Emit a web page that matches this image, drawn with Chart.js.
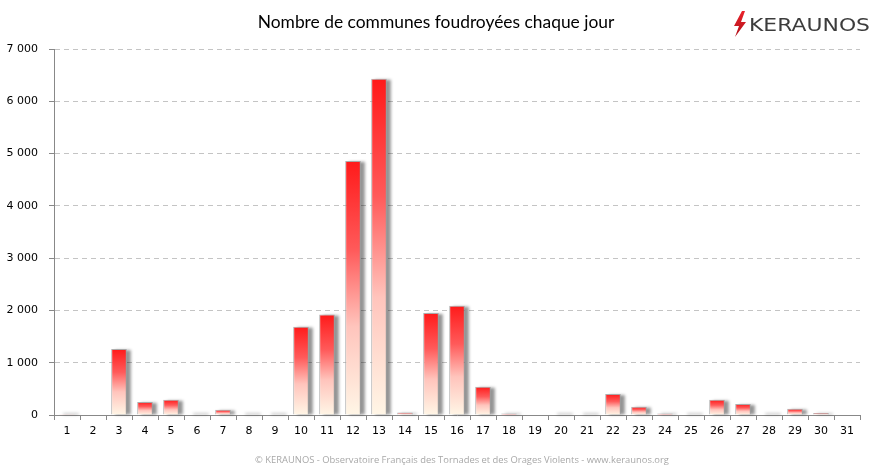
<!DOCTYPE html>
<html>
<head>
<meta charset="utf-8">
<script src="https://cdn.jsdelivr.net/npm/chart.js@4/dist/chart.umd.min.js"></script>
<style>
  html, body { margin: 0; padding: 0; background: #fff; }
  #wrap { width: 874px; height: 472px; }
</style>
</head>
<body>
<div id="wrap"><canvas id="chart" width="874" height="472"></canvas></div>
<script>
// Days of the month
const days = ["1","2","3","4","5","6","7","8","9","10","11","12","13","14","15","16",
  "17","18","19","20","21","22","23","24","25","26","27","28","29","30","31"];

// Number of communes struck by lightning each day
const communes = [15, 0, 1260, 250, 290, 10, 100, 10, 10, 1690, 1920, 4860, 6430, 50,
  1950, 2090, 540, 30, 0, 10, 10, 400, 160, 30, 10, 290, 210, 10, 120, 40, 0];

const titleText = "Nombre de communes foudroyées chaque jour";
const footerText = "© KERAUNOS - Observatoire Français des Tornades et des Orages Violents - www.keraunos.org";

// Gradient from red (top) to cream (bottom) for each bar
function barGradient(context) {
  const chart = context.chart;
  if (!chart.chartArea || !chart.scales.y) return "#ff5050";
  const y = chart.scales.y;
  const top = y.getPixelForValue(context.raw);
  const bottom = y.getPixelForValue(0);
  if (bottom - top < 2) return "#ff6a6a";
  const g = chart.ctx.createLinearGradient(0, top, 0, bottom);
  g.addColorStop(0, "#ff1a1a");
  g.addColorStop(0.35, "#ff5a5a");
  g.addColorStop(0.65, "#ffc4bc");
  g.addColorStop(1, "#fff6e6");
  return g;
}

// Drop shadow behind the bars (the bar element clips its own shadow, so draw it here)
const shadowPlugin = {
  id: "barShadow",
  beforeDatasetsDraw(chart) {
    const ctx = chart.ctx;
    const meta = chart.getDatasetMeta(0);
    ctx.save();
    ctx.fillStyle = "rgba(0,0,0,0.42)";
    ctx.filter = "blur(1.5px)";
    meta.data.forEach((bar, i) => {
      if (!communes[i]) return;
      const p = bar.getProps(["x", "y", "base", "width"], true);
      const h = Math.max(p.base - p.y, 2);
      ctx.fillRect(p.x - p.width / 2 + 4, p.base - h + 1, p.width, h - 1);
    });
    ctx.restore();
  },
};

// Title, logo and footer
const decorPlugin = {
  id: "decor",
  afterDraw(chart) {
    const ctx = chart.ctx;
    ctx.save();
    ctx.fillStyle = "#000";
    ctx.font = "17.4px Lato, 'Open Sans', sans-serif";
    ctx.textAlign = "center";
    ctx.textBaseline = "middle";
    ctx.fillText(titleText, 436, 22);

    ctx.fillStyle = "#a8a8a8";
    ctx.font = "9.4px 'Open Sans', sans-serif";
    ctx.fillText(footerText, 462, 460);

    // lightning bolt
    const g = ctx.createLinearGradient(0, 12, 0, 37);
    g.addColorStop(0, "#e8222a");
    g.addColorStop(1, "#b0101a");
    ctx.fillStyle = g;
    ctx.beginPath();
    ctx.moveTo(742, 11);
    ctx.lineTo(745, 11);
    ctx.lineTo(741, 22);
    ctx.lineTo(746, 22);
    ctx.lineTo(735, 37);
    ctx.lineTo(739, 26);
    ctx.lineTo(734, 26);
    ctx.closePath();
    ctx.fill();

    // KERAUNOS word, stretched to the logo width
    ctx.fillStyle = "#3c3c3c";
    ctx.font = "18px 'DejaVu Sans', sans-serif";
    ctx.textAlign = "left";
    ctx.textBaseline = "alphabetic";
    const w = ctx.measureText("KERAUNOS").width;
    ctx.translate(749, 31);
    ctx.scale(121 / w, 1);
    ctx.fillText("KERAUNOS", 0, 0);
    ctx.restore();
  },
};

const ctx = document.getElementById("chart").getContext("2d");
new Chart(ctx, {
  type: "bar",
  data: {
    labels: days,
    datasets: [
      {
        data: communes,
        backgroundColor: barGradient,
        borderColor: "rgba(160,160,160,0.85)",
        borderWidth: 1,
        barPercentage: 0.6,
        categoryPercentage: 1,
      },
    ],
  },
  options: {
    responsive: false,
    animation: false,
    layout: {
      padding: { top: 49, right: 14, bottom: 27, left: 0 },
    },
    plugins: {
      legend: { display: false },
      tooltip: { enabled: false },
    },
    scales: {
      x: {
        afterFit(scale) {
          scale.height = 30;
        },
        grid: {
          offset: true,
          drawOnChartArea: false,
          drawTicks: true,
          tickLength: 5,
          tickColor: "#888",
        },
        border: { color: "#888" },
        ticks: {
          color: "#000",
          padding: 5,
          maxRotation: 0,
          autoSkip: false,
          font: { family: "'DejaVu Sans', Verdana, sans-serif", size: 11 },
        },
      },
      y: {
        min: 0,
        max: 7000,
        afterFit(scale) {
          scale.width = 54;
        },
        grid: {
          color: "#c4c4c4",
          tickColor: "#888",
          tickLength: 5,
          tickBorderDash: [],
        },
        border: { color: "#888", dash: [5, 4] },
        ticks: {
          stepSize: 1000,
          color: "#000",
          padding: 11,
          font: { family: "'DejaVu Sans', Verdana, sans-serif", size: 11 },
          callback: (v) => String(v).replace(/\B(?=(\d{3})+(?!\d))/g, " "),
        },
      },
    },
  },
  plugins: [shadowPlugin, decorPlugin],
});
</script>
</body>
</html>
